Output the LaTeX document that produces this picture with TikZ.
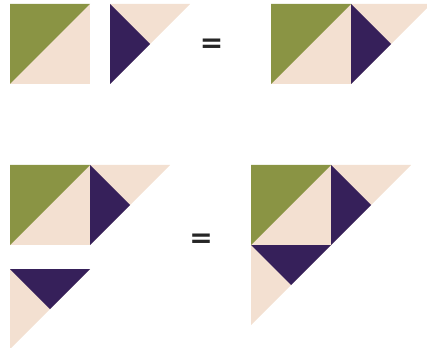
\documentclass[tikz,border=0pt]{standalone}
\usepackage{fontspec}
\setmainfont{DejaVu Sans}
\definecolor{qgreen}{HTML}{8A9444}
\definecolor{qbeige}{HTML}{F3E0D1}
\definecolor{qpurple}{HTML}{36205A}
\tikzset{
  eqsign/.style={inner sep=0pt, font=\fontsize{28}{28}\selectfont\bfseries, text=black!85},
  gpart/.style={fill=qgreen},
  bpart/.style={fill=qbeige},
  ppart/.style={fill=qpurple}
}
\begin{document}
\begin{tikzpicture}[x=1pt,y=-1pt]
\useasboundingbox (0,0) rectangle (427,347);
\begin{scope}
\clip (0,0) rectangle (427,347);
% ---- top row ----
% square A
\fill[bpart] (10,4) rectangle (90,84);
\fill[gpart] (10,4) -- (90,4) -- (10,84) -- cycle;
% triangle B
\fill[bpart] (110,4) -- (190,4) -- (110,84) -- cycle;
\fill[ppart] (110,4) -- (150,44) -- (110,84) -- cycle;
% result
\fill[bpart] (271,4) rectangle (351,84);
\fill[gpart] (271,4) -- (351,4) -- (271,84) -- cycle;
\fill[bpart] (351,4) -- (431,4) -- (351,84) -- cycle;
\fill[ppart] (351,4) -- (391,44) -- (351,84) -- cycle;
% ---- bottom row ----
\fill[bpart] (10,165) rectangle (90,245);
\fill[gpart] (10,165) -- (90,165) -- (10,245) -- cycle;
\fill[bpart] (90,165) -- (170,165) -- (90,245) -- cycle;
\fill[ppart] (90,165) -- (130,205) -- (90,245) -- cycle;
\fill[bpart] (10,269) -- (90,269) -- (10,349) -- cycle;
\fill[ppart] (10,269) -- (90,269) -- (50,309) -- cycle;
% result
\fill[bpart] (251,165) rectangle (331,245);
\fill[gpart] (251,165) -- (331,165) -- (251,245) -- cycle;
\fill[bpart] (331,165) -- (411,165) -- (331,245) -- cycle;
\fill[ppart] (331,165) -- (371,205) -- (331,245) -- cycle;
\fill[bpart] (251,245) -- (331,245) -- (251,325) -- cycle;
\fill[ppart] (251,245) -- (331,245) -- (291,285) -- cycle;
\end{scope}
\node[eqsign] (eq1) at (211.5,45.5) {=};
\node[eqsign] (eq2) at (201,240.5) {=};
\end{tikzpicture}
\end{document}
